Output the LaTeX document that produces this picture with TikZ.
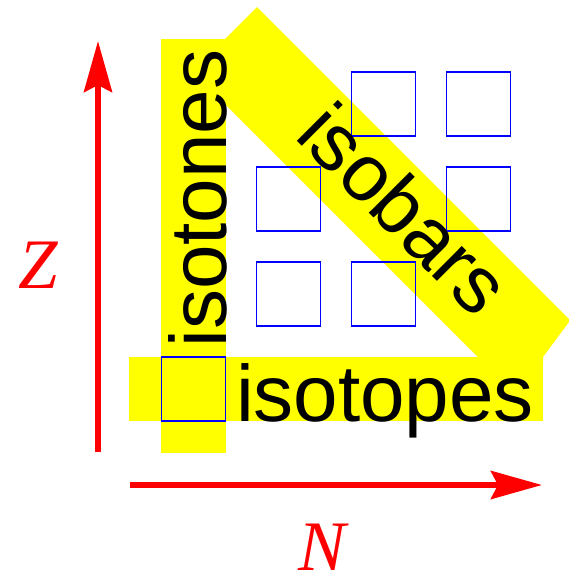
\documentclass[tikz,border=0pt]{standalone}
\usepackage{fontspec}
\setmainfont{Liberation Sans}
\newfontfamily\serifit{Liberation Serif}
\usetikzlibrary{arrows.meta}
\definecolor{bandyellow}{RGB}{255,255,0}
\definecolor{axisred}{RGB}{255,0,0}
\definecolor{cellblue}{RGB}{0,0,255}
\begin{document}
\begin{tikzpicture}[x=1pt,y=-1pt,
  band/.style={fill=bandyellow, draw=none},
  cell/.style={draw=cellblue, line width=1.2pt, minimum size=64pt, inner sep=0pt},
  lbl/.style={font=\fontsize{80}{80}\selectfont, inner sep=0pt, anchor=base},
  axis/.style={axisred, line width=6pt, -{Stealth[length=51pt,width=28pt,inset=7pt]}},
  axlbl/.style={text=axisred, font=\serifit\itshape\fontsize{71}{71}\selectfont, inner sep=0pt, anchor=base}]
\useasboundingbox (0,0) rectangle (569,582);
% yellow bands
\fill[band] (161,39) rectangle (226,453);
\fill[band] (129,357) rectangle (543,421);
\fill[band] (257,7) -- (569,319) -- (569,322) -- (543,357) -- (543,362) -- (483,362) -- (192.5,71.5) -- cycle;
% cells
\node[cell] (c00) at (193.5,389) {};
\node[cell] (c11) at (288.5,294) {};
\node[cell] (c21) at (383.5,294) {};
\node[cell] (c12) at (288.5,199) {};
\node[cell] (c32) at (478.5,199) {};
\node[cell] (c23) at (383.5,104) {};
\node[cell] (c33) at (478.5,104) {};
% labels
\node[lbl] (isotopes) at (385,421) {isotopes};
\node[lbl, rotate=90] (isotones) at (226,198.5) {isotones};
\node[lbl, rotate=-45] (isobars) at (384.5,228.5) {isobars};
% axes
\coordinate (zfrom) at (98,452);
\coordinate (zto) at (98,41);
\coordinate (nfrom) at (130,485);
\coordinate (nto) at (542,485);
\draw[axis] (zfrom) -- (zto);
\draw[axis] (nfrom) -- (nto);
\node[axlbl] (Z) at (38,288) {Z};
\node[axlbl] (N) at (322,570) {N};
\end{tikzpicture}
\end{document}
